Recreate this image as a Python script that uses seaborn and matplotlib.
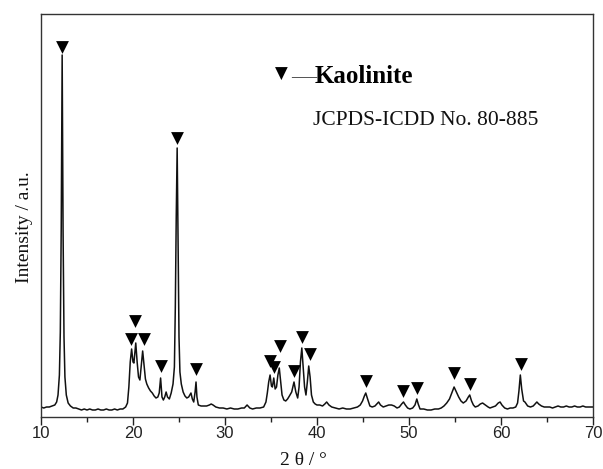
import matplotlib
matplotlib.use("Agg")
import matplotlib.pyplot as plt
import seaborn as sns
import pandas as pd
from matplotlib.ticker import MultipleLocator

# ---- XRD pattern (2theta in degrees, intensity in a.u.) ----
two_theta = [
    10.0, 10.3, 10.6, 10.9, 11.2, 11.5, 11.7, 11.85, 12.0, 12.1, 12.2, 12.3, 12.4, 12.5, 12.6, 12.75,
    12.95, 13.2, 13.5, 13.8, 14.1, 14.4, 14.7, 15.0, 15.3, 15.6, 15.9, 16.2, 16.5, 16.8, 17.1, 17.4,
    17.7, 18.0, 18.3, 18.6, 18.9, 19.2, 19.4, 19.55, 19.7, 19.85, 20.0, 20.1, 20.3, 20.45, 20.6, 20.75,
    20.9, 21.05, 21.2, 21.35, 21.5, 21.7, 21.9, 22.1, 22.3, 22.5, 22.7, 22.85, 23.0, 23.15, 23.3, 23.45,
    23.6, 23.75, 23.95, 24.15, 24.35, 24.5, 24.6, 24.7, 24.8, 24.9, 25.0, 25.1, 25.25, 25.45, 25.65, 25.85,
    26.05, 26.3, 26.45, 26.6, 26.75, 26.85, 26.95, 27.1, 27.4, 27.7, 28.0, 28.3, 28.5, 28.7, 29.0, 29.4,
    29.8, 30.2, 30.6, 31.0, 31.4, 31.8, 32.1, 32.4, 32.7, 33.0, 33.4, 33.8, 34.2, 34.45, 34.6, 34.75,
    34.9, 35.05, 35.15, 35.3, 35.45, 35.6, 35.75, 35.9, 36.05, 36.2, 36.4, 36.6, 36.8, 37.0, 37.25, 37.5,
    37.7, 37.9, 38.05, 38.2, 38.35, 38.5, 38.65, 38.8, 38.95, 39.1, 39.25, 39.4, 39.6, 39.8, 40.0, 40.3,
    40.6, 40.85, 41.05, 41.3, 41.6, 42.0, 42.4, 42.8, 43.2, 43.6, 44.0, 44.4, 44.7, 44.95, 45.15, 45.3,
    45.5, 45.75, 46.0, 46.3, 46.5, 46.7, 46.9, 47.2, 47.5, 47.8, 48.1, 48.4, 48.7, 48.95, 49.2, 49.4,
    49.6, 49.85, 50.1, 50.4, 50.65, 50.85, 51.0, 51.2, 51.6, 52.0, 52.4, 52.8, 53.2, 53.5, 53.8, 54.1,
    54.4, 54.65, 54.9, 55.15, 55.4, 55.65, 55.9, 56.2, 56.45, 56.6, 56.8, 57.0, 57.2, 57.5, 57.75, 58.0,
    58.3, 58.6, 58.8, 59.1, 59.4, 59.7, 59.9, 60.1, 60.4, 60.7, 61.0, 61.3, 61.6, 61.8, 61.95, 62.1,
    62.25, 62.45, 62.6, 62.9, 63.2, 63.5, 63.7, 63.9, 64.1, 64.4, 64.7, 65.0, 65.3, 65.6, 65.9, 66.2,
    66.5, 66.8, 67.1, 67.4, 67.7, 68.0, 68.3, 68.6, 68.9, 69.2, 69.5, 69.8, 70.0,
]
intensity = [
    10, 9, 10, 10, 11, 12, 15, 22, 42, 85, 190, 362, 185, 80, 40, 22,
    14, 11, 9, 9, 8, 7, 8, 7, 8, 7, 7, 8, 7, 7, 8, 7,
    7, 8, 7, 8, 8, 10, 14, 30, 55, 68, 55, 54, 74, 55, 40, 37,
    52, 66, 52, 38, 33, 29, 26, 24, 21, 19, 20, 24, 39, 20, 17, 20,
    25, 20, 18, 24, 33, 50, 110, 200, 269, 175, 80, 45, 33, 25, 21, 19,
    20, 24, 18, 15, 25, 35, 20, 12, 11, 11, 11, 12, 13, 12, 10, 9,
    9, 8, 9, 8, 8, 9, 9, 12, 9, 8, 9, 9, 10, 15, 24, 35,
    42, 31, 30, 39, 28, 30, 42, 49, 35, 22, 17, 16, 18, 21, 25, 35,
    25, 19, 30, 55, 69, 50, 30, 22, 35, 51, 40, 22, 15, 13, 12, 12,
    11, 13, 15, 12, 10, 9, 8, 9, 8, 8, 9, 10, 12, 16, 21, 24,
    18, 11, 10, 11, 13, 15, 12, 10, 11, 12, 12, 11, 9, 10, 13, 15,
    12, 9, 8, 9, 12, 18, 13, 8, 8, 7, 7, 8, 8, 9, 11, 14,
    18, 24, 30, 25, 20, 16, 14, 16, 20, 22, 16, 12, 10, 11, 13, 14,
    12, 10, 9, 10, 11, 14, 15, 12, 9, 8, 9, 9, 10, 14, 26, 42,
    28, 16, 15, 11, 10, 11, 13, 15, 13, 11, 10, 10, 10, 9, 10, 11,
    10, 10, 11, 10, 10, 11, 10, 10, 11, 10, 10, 10, 10,
]

# ---- Kaolinite peak markers (position, marker height) ----
peak_theta = [12.3, 19.75, 20.2, 21.15, 23.05, 24.8, 26.8, 34.9, 35.3, 35.95, 37.5, 38.35, 39.2,
              45.3, 49.35, 50.85, 54.9, 56.6, 62.15]
peak_mark = [370, 78, 96, 78, 51, 279, 48, 56, 50, 71, 46, 80, 63,
             36, 26.5, 28.7, 43.7, 33, 53]

x_ticks = [10, 20, 30, 40, 50, 60, 70]

df = pd.DataFrame({"two_theta": two_theta, "intensity": intensity})
pk = pd.DataFrame({"two_theta": peak_theta, "mark": peak_mark})

sns.set_style("ticks")
plt.rcParams["font.family"] = ["Liberation Sans", "DejaVu Sans"]

fig = plt.figure(figsize=(6.03, 4.69), dpi=100)
ax = fig.add_axes([41 / 603, 1 - 417 / 469, 552 / 603, 403 / 469])

sns.lineplot(data=df, x="two_theta", y="intensity", ax=ax, color="#111111",
             linewidth=1.1, sort=False, estimator=None)
sns.scatterplot(data=pk, x="two_theta", y="mark", ax=ax, marker="v", s=85,
                color="black", linewidth=0, zorder=5)

ax.set_xlim(10, 70)
ax.set_ylim(0, 403)
ax.set_xticks(x_ticks)
ax.set_xticklabels([str(t) for t in x_ticks])
ax.xaxis.set_minor_locator(MultipleLocator(5))
ax.set_yticks([])
ax.tick_params(axis="x", which="major", direction="out", length=6, width=1,
               labelsize=12, pad=0.5, colors="#222222")
ax.tick_params(axis="x", which="minor", direction="out", length=3.5, width=1, colors="#222222")
for sp in ax.spines.values():
    sp.set_visible(True)
    sp.set_color("#333333")
    sp.set_linewidth(1.0)

ax.set_xlabel("2 θ / °", family=["Liberation Serif", "DejaVu Serif"], fontsize=14, color="#111111")
ax.set_ylabel("Intensity / a.u.", family=["Liberation Serif", "DejaVu Serif"], fontsize=14, color="#111111")
ax.xaxis.set_label_coords(0.476, -0.088)
ax.yaxis.set_label_coords(-0.015, 0.471)

ax.text(0.435, 0.851, "▼", transform=ax.transAxes, ha="center", va="center",
        family=["DejaVu Sans"], fontsize=12, color="black")
ax.text(0.453, 0.832, "—", transform=ax.transAxes, ha="left", va="baseline",
        family=["Liberation Serif"], fontsize=18, color="#555555")
ax.text(0.496, 0.828, "Kaolinite", transform=ax.transAxes, ha="left", va="baseline",
        family=["Liberation Serif"], fontsize=18, fontweight="bold", color="black")
ax.text(0.493, 0.7246, "JCPDS-ICDD No. 80-885", transform=ax.transAxes, ha="left", va="baseline",
        family=["Liberation Serif"], fontsize=15.5, color="#111111")

fig.savefig("out.png", dpi=100)
